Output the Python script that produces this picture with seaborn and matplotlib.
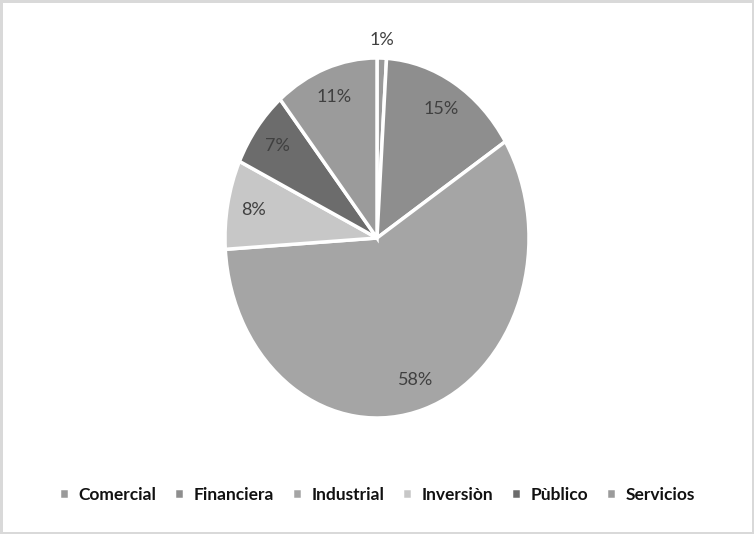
import numpy as np
import matplotlib
matplotlib.use('Agg')
import matplotlib.pyplot as plt
import seaborn as sns

# Data
categories = ['Comercial', 'Financiera', 'Industrial', 'Inversiòn', 'Pùblico', 'Servicios']
shares = [1, 15, 58, 8, 7, 11]
colors = ['#9a9a9a', '#8e8e8e', '#a5a5a5', '#c7c7c7', '#6c6c6c', '#9b9b9b']

sns.set_theme(style='white')
plt.rcParams['font.family'] = ['Lato', 'DejaVu Sans']

fig = plt.figure(figsize=(7.54, 5.34), dpi=100, facecolor='white',
                 edgecolor='#d9d9d9', linewidth=2.5)
ax = fig.add_axes([225 / 754, (534 - 418) / 534, 304 / 754, 360 / 534])

wedges, texts, autotexts = ax.pie(
    shares, colors=colors, startangle=90, counterclock=False,
    autopct='%1.0f%%', pctdistance=0.83,
    wedgeprops=dict(edgecolor='white', linewidth=2.5),
    textprops=dict(color='#404040', fontsize=13))
ax.set_aspect('auto')
ax.set_xlim(-1, 1)
ax.set_ylim(-1, 1)

# the tiny slice gets its label outside the pie
w = wedges[0]
mid = np.deg2rad((w.theta1 + w.theta2) / 2)
autotexts[0].set_position((1.09 * np.cos(mid), 1.1 * np.sin(mid)))

fig.legend(wedges, categories, loc='center', bbox_to_anchor=(0.5, 0.073),
           ncol=6, frameon=False, handlelength=0.6, handleheight=0.6,
           handletextpad=0.55, columnspacing=1.0,
           prop=dict(weight='bold', size=12.5), labelcolor='#111111')

fig.savefig('out.png', dpi=100)
